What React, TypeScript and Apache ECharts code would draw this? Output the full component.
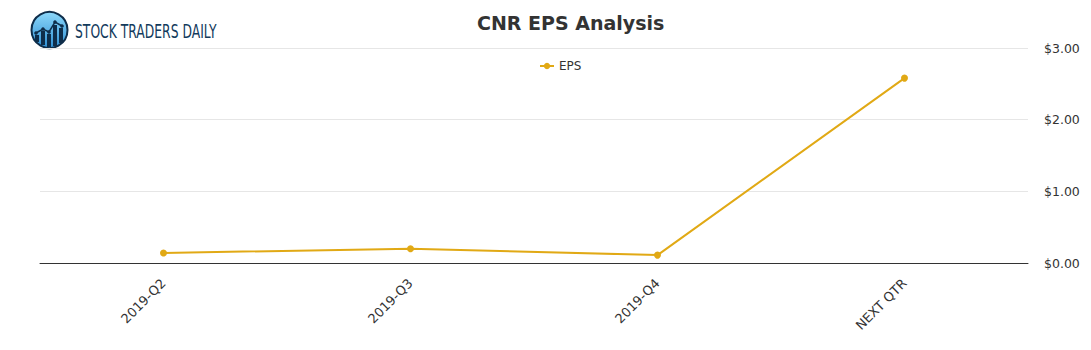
import React, { useEffect, useRef } from "react";
import * as echarts from "echarts";

const categories = ["2019-Q2", "2019-Q3", "2019-Q4", "NEXT QTR"];
const epsValues = [0.14, 0.2, 0.11, 2.58];
const yTicks = { min: 0, max: 3, interval: 1 };
const titleText = "CNR EPS Analysis";
const seriesName = "EPS";
const brandText = "STOCK TRADERS DAILY";

const LINE_COLOR = "#E1A915";
const NAVY = "#0E2D4A";

export default function App() {
  const ref = useRef<HTMLDivElement>(null);
  useEffect(() => {
    if (!ref.current) return;
    const chart = echarts.init(ref.current, undefined, { renderer: "svg" });
    const bars = [
      { x: 35, y: 35, h: 7 },
      { x: 41, y: 31, h: 14 },
      { x: 47, y: 34, h: 13 },
      { x: 53, y: 25, h: 21 },
      { x: 59, y: 28, h: 15 },
    ];
    const pts = [[36, 33], [43, 29], [49, 32], [55, 22], [62, 26]];
    chart.setOption({
      animation: false,
      backgroundColor: "#ffffff",
      textStyle: { fontFamily: "DejaVu Sans" },
      title: {
        text: titleText,
        left: 472,
        top: 8,
        textStyle: { fontSize: 19, fontWeight: "bold", color: "#333333", fontFamily: "DejaVu Sans" },
      },
      legend: {
        top: 55,
        left: 534,
        itemWidth: 14,
        itemHeight: 8,
        itemGap: 10,
        data: [seriesName],
        textStyle: { fontSize: 12, color: "#333333", fontFamily: "DejaVu Sans" },
      },
      grid: { left: 40, right: 63, top: 48, bottom: 87, containLabel: false },
      xAxis: {
        type: "category",
        data: categories,
        boundaryGap: true,
        axisLine: { show: true, lineStyle: { color: "#333333", width: 1 } },
        axisTick: { show: false },
        axisLabel: { rotate: 45, fontSize: 13, color: "#333333", margin: 18, fontFamily: "DejaVu Sans" },
      },
      yAxis: {
        type: "value",
        position: "right",
        min: yTicks.min,
        max: yTicks.max,
        interval: yTicks.interval,
        axisLine: { show: false },
        axisTick: { show: false },
        splitLine: { lineStyle: { color: "#e6e6e6", width: 1 } },
        axisLabel: {
          fontSize: 12.5,
          color: "#333333",
          margin: 16,
          fontFamily: "DejaVu Sans",
          formatter: (v: number) => "$" + v.toFixed(2),
        },
      },
      series: [
        {
          name: seriesName,
          type: "line",
          data: epsValues,
          symbol: "circle",
          symbolSize: 7,
          itemStyle: { color: LINE_COLOR },
          lineStyle: { color: LINE_COLOR, width: 2 },
        },
      ],
      graphic: [
        {
          type: "circle",
          shape: { cx: 49.5, cy: 30, r: 18 },
          style: {
            fill: new echarts.graphic.LinearGradient(0, 0, 0, 1, [
              { offset: 0, color: "#8DD8FA" },
              { offset: 1, color: "#2E8ED3" },
            ]),
            stroke: NAVY,
            lineWidth: 2,
          },
        },
        ...bars.map((b) => ({
          type: "rect",
          shape: { x: b.x, y: b.y, width: 4, height: b.h },
          style: { fill: NAVY },
        })),
        {
          type: "polyline",
          shape: { points: pts },
          style: { stroke: NAVY, lineWidth: 1.5, fill: "none" },
        },
        ...pts.map((p) => ({
          type: "circle",
          shape: { cx: p[0], cy: p[1], r: 1.8 },
          style: { fill: NAVY },
        })),
        {
          type: "text",
          x: 75,
          y: 31.5,
          scaleX: 0.65,
          style: {
            text: brandText,
            fontSize: 19,
            fontFamily: "DejaVu Sans",
            fill: "#123A5C",
            verticalAlign: "middle",
            align: "left",
          },
        },
      ],
    });
    return () => chart.dispose();
  }, []);
  return (
    <div
      ref={ref}
      style={{ position: "fixed", left: 0, top: 0, width: 1091, height: 350 }}
    />
  );
}
